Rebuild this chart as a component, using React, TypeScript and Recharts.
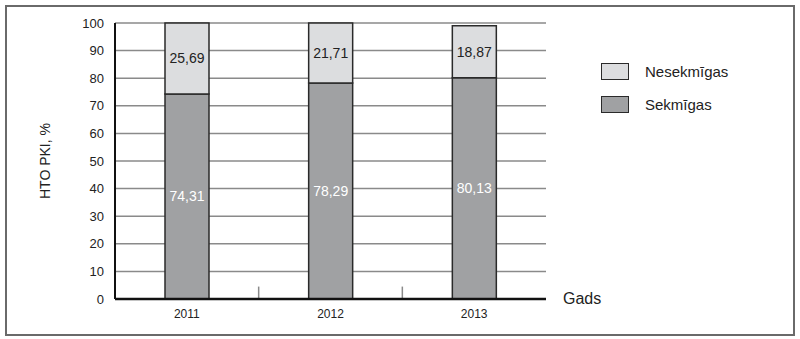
import React from 'react';
import { BarChart, Bar, XAxis, YAxis, CartesianGrid, Legend, LabelList, ReferenceLine } from 'recharts';

const years = ['2011', '2012', '2013'];
const sekmigas = [74.31, 78.29, 80.13];
const nesekmigas = [25.69, 21.71, 18.87];
const yTicks = [0, 10, 20, 30, 40, 50, 60, 70, 80, 90, 100];
// short upward ticks sit on the boundary after these categories
const boundaryAfter = ['2011', '2012'];

const data = years.map((year, i) => ({
  year,
  sekmigas: sekmigas[i],
  nesekmigas: nesekmigas[i],
}));

const FONT = '"Liberation Sans", Arial, sans-serif';
const fmt = (v: any) => Number(v).toFixed(2).replace('.', ',');

const legendItems = [
  { label: 'Nesekmīgas', color: '#dcdddf' },
  { label: 'Sekmīgas', color: '#a0a1a3' },
];

const LegendBox = () => (
  <div style={{ fontFamily: FONT, fontSize: 15, color: '#222' }}>
    {legendItems.map((item) => (
      <div key={item.label} style={{ display: 'flex', alignItems: 'center', height: 17, marginBottom: 16 }}>
        <div
          style={{
            width: 26,
            height: 15,
            background: item.color,
            border: '1.5px solid #2a2a2a',
            marginRight: 16,
          }}
        />
        <span>{item.label}</span>
      </div>
    ))}
  </div>
);

const YLabel = (props: any) => {
  const vb = props.viewBox || {};
  const cx = vb.x + 5;
  const cy = vb.y + vb.height / 2;
  return (
    <text
      x={cx}
      y={cy}
      transform={`rotate(-90 ${cx} ${cy})`}
      textAnchor="middle"
      dominantBaseline="central"
      fontFamily={FONT}
      fontSize={14}
      fill="#222"
    >
      HTO PKI, %
    </text>
  );
};

const App: React.FC = () => {
  return (
    <div style={{ position: 'absolute', left: 0, top: 0, width: 800, height: 339, background: '#fff' }}>
      <div
        style={{
          position: 'absolute',
          left: 5,
          top: 5,
          width: 786,
          height: 327,
          border: '2px solid #6a6a6a',
        }}
      />
      <BarChart
        width={800}
        height={339}
        data={data}
        barSize={44}
        margin={{ top: 23, right: 254, left: 40, bottom: 10 }}
        style={{ position: 'absolute', left: 0, top: 0 }}
      >
        <CartesianGrid vertical={false} stroke="#8a8a8a" strokeWidth={1.5} />
        <XAxis
          dataKey="year"
          height={30}
          axisLine={{ stroke: '#111', strokeWidth: 2.5 }}
          tickLine={false}
          tickMargin={4}
          tick={{ fill: '#222', fontSize: 12, fontFamily: FONT }}
          label={{
            value: 'Gads',
            position: 'right',
            offset: 17,
            dy: -16,
            fill: '#222',
            fontSize: 16,
            fontFamily: FONT,
          }}
        />
        <YAxis
          width={75}
          domain={[0, 100]}
          ticks={yTicks}
          interval={0}
          axisLine={{ stroke: '#111', strokeWidth: 2 }}
          tickLine={false}
          tickMargin={5}
          tick={{ fill: '#222', fontSize: 13, fontFamily: FONT }}
          label={<YLabel />}
        />
        <YAxis
          yAxisId="r"
          orientation="right"
          width={0}
          domain={[0, 100]}
          tick={false}
          tickLine={false}
          axisLine={{ stroke: '#8a8a8a', strokeWidth: 1.5 }}
        />
        {boundaryAfter.map((y) => (
          <ReferenceLine
            key={y}
            segment={[
              { x: y, y: 0 },
              { x: y, y: 4.5 },
            ]}
            position="end"
            stroke="#8a8a8a"
            strokeWidth={1.5}
          />
        ))}
        <Legend
          layout="vertical"
          align="center"
          verticalAlign="middle"
          content={<LegendBox />}
          wrapperStyle={{ left: 601, top: 63, width: 180 }}
        />
        <Bar dataKey="sekmigas" stackId="a" fill="#a0a1a3" stroke="#2a2a2a" strokeWidth={1.5} isAnimationActive={false}>
          <LabelList
            dataKey="sekmigas"
            position="center"
            formatter={fmt}
            fill="#fff"
            fontSize={14}
            fontFamily={FONT}
          />
        </Bar>
        <Bar dataKey="nesekmigas" stackId="a" fill="#dcdddf" stroke="#2a2a2a" strokeWidth={1.5} isAnimationActive={false}>
          <LabelList
            dataKey="nesekmigas"
            position="center"
            formatter={fmt}
            fill="#222"
            fontSize={14}
            fontFamily={FONT}
          />
        </Bar>
      </BarChart>
    </div>
  );
};

export default App;
